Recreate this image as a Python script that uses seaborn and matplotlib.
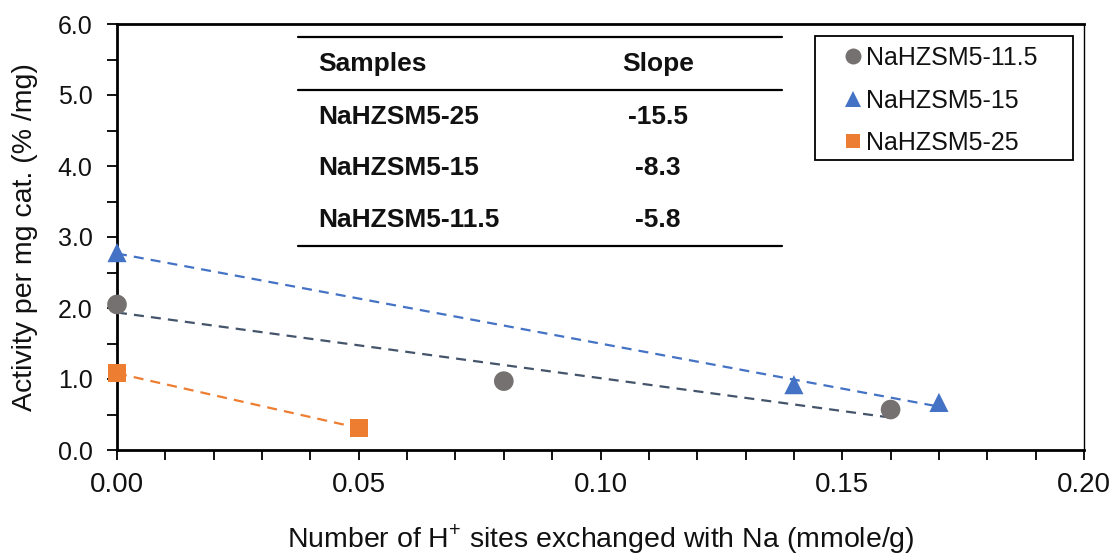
import numpy as np
import pandas as pd
import matplotlib
matplotlib.use("Agg")
import matplotlib.pyplot as plt
from matplotlib.ticker import MultipleLocator
from matplotlib.lines import Line2D
from matplotlib.patches import Rectangle
import seaborn as sns

# Measured activity vs. Na-exchanged H+ sites
x_115 = [0.00, 0.08, 0.16]
y_115 = [2.05, 0.97, 0.57]
x_15 = [0.00, 0.14, 0.17]
y_15 = [2.78, 0.92, 0.67]
x_25 = [0.00, 0.05]
y_25 = [1.08, 0.31]

series_names = ["NaHZSM5-11.5", "NaHZSM5-15", "NaHZSM5-25"]

# Slope table shown inside the plot
table_samples = ["NaHZSM5-25", "NaHZSM5-15", "NaHZSM5-11.5"]
table_slopes = ["-15.5", "-8.3", "-5.8"]

x_ticks = [0.00, 0.05, 0.10, 0.15, 0.20]
y_ticks = [0.0, 1.0, 2.0, 3.0, 4.0, 5.0, 6.0]

marker_colors = {"NaHZSM5-11.5": "#767171", "NaHZSM5-15": "#4472C4", "NaHZSM5-25": "#ED7D31"}
line_colors = {"NaHZSM5-11.5": "#44546A", "NaHZSM5-15": "#4472C4", "NaHZSM5-25": "#ED7D31"}
markers = {"NaHZSM5-11.5": "o", "NaHZSM5-15": "^", "NaHZSM5-25": "s"}
sizes = {"NaHZSM5-11.5": 200, "NaHZSM5-15": 190, "NaHZSM5-25": 170}

df = pd.DataFrame({
    "x": x_115 + x_15 + x_25,
    "y": y_115 + y_15 + y_25,
    "sample": [series_names[0]] * len(x_115) + [series_names[1]] * len(x_15) + [series_names[2]] * len(x_25),
})

sns.set_theme(style="white")
plt.rcParams["font.family"] = ["Liberation Sans", "DejaVu Sans"]
plt.rcParams["mathtext.fontset"] = "custom"
plt.rcParams["mathtext.rm"] = "Liberation Sans"

TXT = "#111111"
fig = plt.figure(figsize=(11.17, 5.54), dpi=100)
W, H = 1117, 554
left, right, top, bottom = 117, 1084, 24, 450
ax = fig.add_axes([left / W, (H - bottom) / H, (right - left) / W, (bottom - top) / H])

# Linear trendlines (dashed)
for name in series_names:
    sub = df[df["sample"] == name]
    sns.regplot(data=sub, x="x", y="y", ax=ax, scatter=False, ci=None, truncate=True,
                line_kws=dict(color=line_colors[name], lw=1.6, ls=(0, (4.5, 3.2))))

# Data markers
for name in series_names:
    sub = df[df["sample"] == name]
    sns.scatterplot(data=sub, x="x", y="y", ax=ax, marker=markers[name], s=sizes[name],
                    color=marker_colors[name], edgecolor="none", linewidth=0, zorder=5,
                    clip_on=False, legend=False)

ax.set_xlim(0, 0.20)
ax.set_ylim(0, 6.0)
ax.set_xticks(x_ticks)
ax.set_yticks(y_ticks)
ax.set_xticklabels([f"{v:.2f}" for v in x_ticks])
ax.set_yticklabels([f"{v:.1f}" for v in y_ticks])
ax.xaxis.set_minor_locator(MultipleLocator(0.01))
ax.yaxis.set_minor_locator(MultipleLocator(0.5))

ax.tick_params(axis="x", which="both", direction="out", length=7, width=1.3, color="black",
               bottom=True, labelsize=20, pad=8.5, labelcolor=TXT)
ax.tick_params(axis="y", which="both", direction="out", length=7, width=1.3, color="black",
               left=True, labelsize=18, pad=10.5, labelcolor=TXT)

for side in ["left", "bottom", "top"]:
    ax.spines[side].set_color("black")
    ax.spines[side].set_linewidth(2.0)
ax.spines["right"].set_color("black")
ax.spines["right"].set_linewidth(1.0)

ax.set_xlabel("Number of H$^{+}$ sites exchanged with Na (mmole/g)", fontsize=20.5, color=TXT)
ax.set_ylabel("Activity per mg cat. (% /mg)", fontsize=20.5, color=TXT)
ax.xaxis.set_label_coords(0.5, -0.168)
ax.yaxis.set_label_coords(-0.0815, 0.5)

tx = lambda px: (px - left) / (right - left)
ty = lambda py: (bottom - py) / (bottom - top)

# Legend with markers only, inside a hand-placed box
handles = [Line2D([], [], ls="none", marker=markers[n], color=marker_colors[n],
                  markersize={"o": 11.5, "^": 11.5, "s": 10.5}[markers[n]], markeredgewidth=0)
           for n in series_names]
leg = ax.legend(handles, series_names, loc="upper left", bbox_to_anchor=(tx(845), ty(46)),
                frameon=False, fontsize=18, handlelength=0.6, handletextpad=0.26,
                labelspacing=0.74, borderpad=0, borderaxespad=0, labelcolor=TXT)
ax.add_patch(Rectangle((tx(815), ty(160)), tx(1073) - tx(815), ty(36) - ty(160),
                       transform=ax.transAxes, fill=False, edgecolor="black", lw=1.3,
                       clip_on=False, zorder=6))

# Slope table
for yy in [37, 90, 246]:
    ax.plot([tx(298), tx(782)], [ty(yy), ty(yy)], color="black", lw=1.6,
            transform=ax.transAxes, clip_on=False)
ax.text(tx(318), ty(64), "Samples", transform=ax.transAxes, ha="left", va="center",
        fontsize=19, fontweight="bold", color=TXT)
ax.text(tx(658), ty(64), "Slope", transform=ax.transAxes, ha="center", va="center",
        fontsize=19, fontweight="bold", color=TXT)
for py, s, v in zip([117, 168, 220], table_samples, table_slopes):
    ax.text(tx(318), ty(py), s, transform=ax.transAxes, ha="left", va="center",
            fontsize=19, fontweight="bold", color=TXT)
    ax.text(tx(658), ty(py), v, transform=ax.transAxes, ha="center", va="center",
            fontsize=19, fontweight="bold", color=TXT)

fig.savefig("out.png", dpi=100)
